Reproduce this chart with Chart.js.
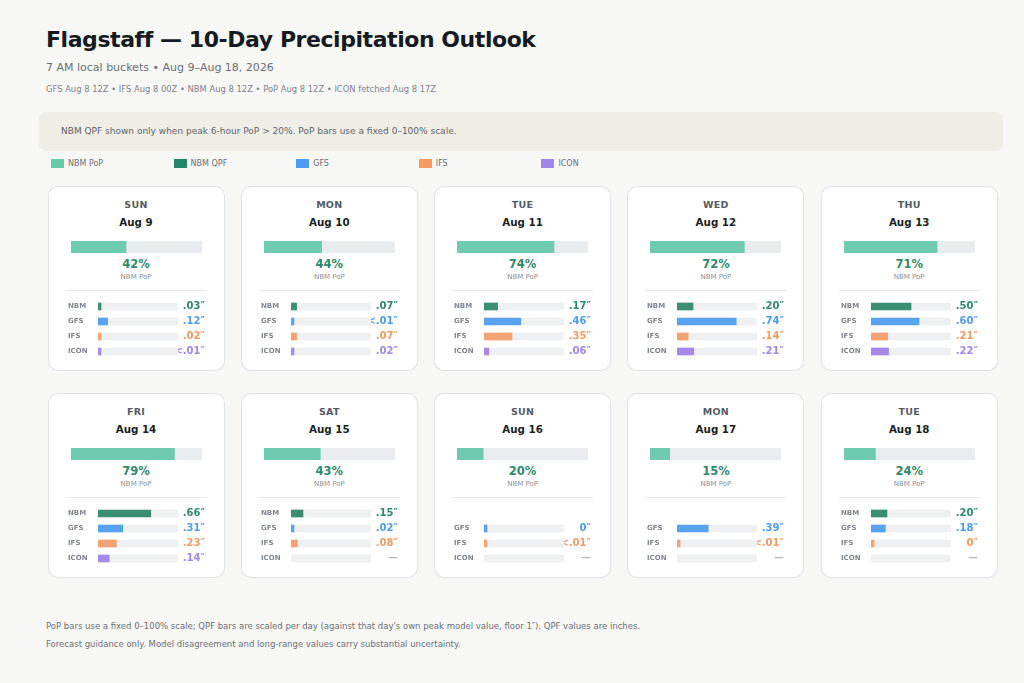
<!DOCTYPE html>
<html>
<head>
<meta charset="utf-8">
<script src="https://cdn.jsdelivr.net/npm/chart.js@4.4.1/dist/chart.umd.min.js"></script>
<style>
  body { margin: 0; background: #f7f7f5; font-family: 'DejaVu Sans', sans-serif; }
  #page { position: relative; width: 1024px; height: 683px; overflow: hidden; }
  .t { position: absolute; white-space: nowrap; line-height: 1; }
  .title { left: 46px; top: 29px; font-size: 22px; font-weight: bold; color: #161b22; letter-spacing: -0.02em; }
  .sub { left: 46px; top: 62px; font-size: 11px; color: #6b7078; }
  .src { left: 46px; top: 85px; font-size: 8.4px; color: #7d828a; }
  .note { position: absolute; left: 39px; top: 112px; width: 964px; height: 39px; background: #eeede6; border-radius: 7px; }
  .note span { position: absolute; left: 22px; top: 15px; font-size: 9px; line-height: 9px; color: #5f646b; white-space: nowrap; }
  .leg { position: absolute; top: 159px; height: 9px; }
  .leg i { position: absolute; left: 0; top: 0; width: 13px; height: 9px; }
  .leg span { position: absolute; left: 17px; top: 0; font-size: 8px; line-height: 9px; color: #6b7078; white-space: nowrap; }
  .card { position: absolute; width: 177px; height: 185px; background: #fff; border-radius: 10px; box-shadow: inset 0 0 0 1px #dde2e7; }
  .card .day { position: absolute; left: 0; right: 0; top: 12.5px; line-height: 12px; text-align: center; font-size: 9.5px; font-weight: bold; color: #555c65; letter-spacing: 0.03em; }
  .card .date { position: absolute; left: 0; right: 0; top: 29.5px; line-height: 12px; text-align: center; font-size: 10.3px; font-weight: bold; color: #1b1f24; }
  .card .pct { position: absolute; left: 0; right: 0; top: 71px; line-height: 14px; text-align: center; font-size: 11.5px; font-weight: bold; color: #2f8a6b; }
  .card .plbl { position: absolute; left: 0; right: 0; top: 86px; line-height: 10px; text-align: center; font-size: 7px; color: #8b9097; }
  .card .rule { position: absolute; left: 18px; width: 141px; top: 104px; height: 1px; background: #e6e9ed; }
  .card canvas { position: absolute; }
  .card .pop { left: 23px; top: 55px; }
  .card .qpf { left: 20px; top: 113px; }
  .foot { left: 46px; font-size: 8.5px; color: #6b7078; }
</style>
</head>
<body>
<div id="page">
  <div class="t title">Flagstaff — 10-Day Precipitation Outlook</div>
  <div class="t sub">7 AM local buckets • Aug 9–Aug 18, 2026</div>
  <div class="t src">GFS Aug 8 12Z • IFS Aug 8 00Z • NBM Aug 8 12Z • PoP Aug 8 12Z • ICON fetched Aug 8 17Z</div>
  <div class="note"><span>NBM QPF shown only when peak 6-hour PoP &gt; 20%. PoP bars use a fixed 0–100% scale.</span></div>
  <div id="legend"></div>
  <div id="cards"></div>
  <div class="t foot" style="top:621.5px">PoP bars use a fixed 0–100% scale; QPF bars are scaled per day (against that day's own peak model value, floor 1″). QPF values are inches.</div>
  <div class="t foot" style="top:640px">Forecast guidance only. Model disagreement and long-range values carry substantial uncertainty.</div>
</div>
<script>
// daily buckets, 7 AM local
const DAY_NAMES = ['SUN', 'MON', 'TUE', 'WED', 'THU', 'FRI', 'SAT', 'SUN', 'MON', 'TUE'];
const DAY_DATES = ['Aug 9', 'Aug 10', 'Aug 11', 'Aug 12', 'Aug 13', 'Aug 14', 'Aug 15', 'Aug 16', 'Aug 17', 'Aug 18'];
const NBM_POP = [42, 44, 74, 72, 71, 79, 43, 20, 15, 24];

// QPF, inches (0.004 = trace, shown as <.01; null = no value)
const NBM_QPF  = [0.03, 0.07, 0.17, 0.20, 0.50, 0.66, 0.15, null, null, 0.20];
const GFS_QPF  = [0.12, 0.004, 0.46, 0.74, 0.60, 0.31, 0.02, 0, 0.39, 0.18];
const IFS_QPF  = [0.02, 0.07, 0.35, 0.14, 0.21, 0.23, 0.08, 0.004, 0.004, 0];
const ICON_QPF = [0.004, 0.02, 0.06, 0.21, 0.22, 0.14, null, null, null, null];

const MODELS = ['NBM', 'GFS', 'IFS', 'ICON'];
const LEGEND_LABELS = ['NBM PoP', 'NBM QPF', 'GFS', 'IFS', 'ICON'];
const POP_THRESHOLD = 20;

const SERIES = { NBM: NBM_QPF, GFS: GFS_QPF, IFS: IFS_QPF, ICON: ICON_QPF };
const BAR_COLORS = { POP: '#6fcbb0', NBM: '#3a8e72', GFS: '#58a2f2', IFS: '#f4a271', ICON: '#a48bea' };
const TEXT_COLORS = { NBM: '#2f8a6b', GFS: '#4e9cf0', IFS: '#f39a62', ICON: '#a087e9' };
const LEGEND_COLORS = ['#66cba9', '#23846a', '#4c9cf3', '#f59a62', '#9e86ea'];
const MISSING_COLOR = '#b4b8bd';

Chart.defaults.font.family = "'DejaVu Sans', sans-serif";

function fmtQpf(v) {
  if (v === null) return '—';
  if (v === 0) return '0″';
  if (v < 0.01) return '<.01″';
  let s = v.toFixed(2);
  if (s.startsWith('0')) s = s.slice(1);
  return s + '″';
}

// legend
const legendEl = document.getElementById('legend');
LEGEND_LABELS.forEach((lab, k) => {
  const d = document.createElement('div');
  d.className = 'leg';
  d.style.left = (51 + k * 122.6) + 'px';
  d.innerHTML = `<i style="background:${LEGEND_COLORS[k]}"></i><span>${lab}</span>`;
  legendEl.appendChild(d);
});

const baseOpts = {
  indexAxis: 'y',
  responsive: false,
  animation: false,
  events: [],
  layout: { padding: 0 },
  plugins: { legend: { display: false }, tooltip: { enabled: false } }
};

// keep the label axes from eating vertical space
function fixAxis(width) {
  return s => { s.width = width; s.paddingTop = 0; s.paddingBottom = 0; };
}

function popChart(canvas, i) {
  new Chart(canvas, {
    type: 'bar',
    data: {
      labels: ['PoP'],
      datasets: [
        { data: [NBM_POP[i]], backgroundColor: BAR_COLORS.POP, barThickness: 12, grouped: false },
        { data: [100], backgroundColor: '#e9ecef', barThickness: 12, grouped: false }
      ]
    },
    options: {
      ...baseOpts,
      scales: { x: { display: false, min: 0, max: 100 }, y: { display: false } }
    }
  });
}

function qpfChart(canvas, i) {
  const hideNbm = NBM_POP[i] <= POP_THRESHOLD;
  const vals = MODELS.map((m, k) => (k === 0 && hideNbm) ? null : SERIES[m][i]);
  const peak = Math.max(1, ...vals.filter(v => v !== null));
  const rowLabels = MODELS.map((m, k) => (k === 0 && hideNbm) ? '' : m);
  const valLabels = vals.map((v, k) => (k === 0 && hideNbm) ? '' : fmtQpf(v));
  const valColors = vals.map((v, k) => v === null ? MISSING_COLOR : TEXT_COLORS[MODELS[k]]);

  new Chart(canvas, {
    type: 'bar',
    data: {
      labels: rowLabels,
      datasets: [
        { data: vals, backgroundColor: MODELS.map(m => BAR_COLORS[m]), barThickness: 7, grouped: false, minBarLength: 3 },
        { data: rowLabels.map(l => l ? peak : null), backgroundColor: '#eef0f2', barThickness: 7, grouped: false }
      ]
    },
    options: {
      ...baseOpts,
      scales: {
        x: { display: false, min: 0, max: peak },
        y: {
          position: 'left',
          grid: { display: false, drawTicks: false },
          border: { display: false },
          ticks: { autoSkip: false, crossAlign: 'far', padding: 0, color: '#80868e', font: { size: 7, weight: 'bold' } },
          afterFit: fixAxis(30)
        },
        v: {
          type: 'category',
          labels: valLabels,
          position: 'right',
          offset: true,
          z: 1,
          grid: { display: false, drawTicks: false },
          border: { display: false },
          ticks: { autoSkip: false, crossAlign: 'far', padding: 0, color: c => valColors[c.index], font: { size: 10, weight: 'bold' } },
          afterFit: fixAxis(27)
        }
      }
    }
  });
}

const cardsEl = document.getElementById('cards');
DAY_NAMES.forEach((name, i) => {
  const col = i % 5, row = Math.floor(i / 5);
  const card = document.createElement('div');
  card.className = 'card';
  card.style.left = (47.5 + col * 193.3) + 'px';
  card.style.top = (186 + row * 207.3) + 'px';
  card.innerHTML = `
    <div class="day">${name}</div>
    <div class="date">${DAY_DATES[i]}</div>
    <canvas class="pop" width="131" height="12"></canvas>
    <div class="pct">${NBM_POP[i]}%</div>
    <div class="plbl">NBM PoP</div>
    <div class="rule"></div>
    <canvas class="qpf" width="137" height="60"></canvas>`;
  cardsEl.appendChild(card);
  popChart(card.querySelector('.pop'), i);
  qpfChart(card.querySelector('.qpf'), i);
});
</script>
</body>
</html>
